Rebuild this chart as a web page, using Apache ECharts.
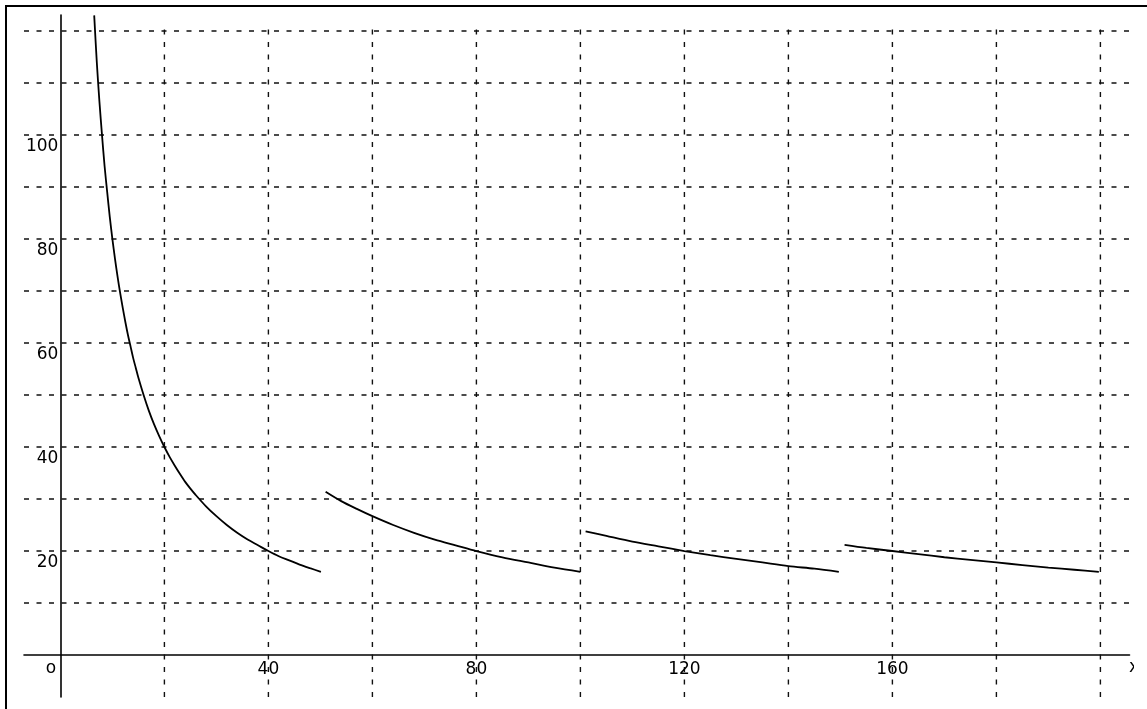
<!DOCTYPE html>
<html><head><meta charset="utf-8">
<script src="https://cdn.jsdelivr.net/npm/echarts@6/dist/echarts.min.js"></script>
<style>html,body{margin:0;padding:0;background:#fff}#c{width:1147px;height:709px}</style>
</head><body><div id="c"></div>
<script>
// Curve segments: [x, y]
const seg1 = [[6.5,123],[7,114],[7.5,106.5],[8,100],[8.5,94],[9,89],[9.5,84.2],[10,80],[10.5,76.2],[11,72.7],[11.5,69.6],[12,66.7],[12.5,64],[13,61.5],[13.5,59.3],[14,57.1],[14.5,55.2],[15,53.3],[16,50],[17,47],[18,44.4],[19,42.1],[20,40],[21,38.1],[22,36.4],[23,34.8],[24,33.3],[25,32],[26,30.8],[28,28.6],[30,26.7],[32,25],[34,23.5],[36,22.2],[38,21.1],[40,20],[42,19],[44,18.2],[46,17.4],[48,16.7],[50.1,16]];
const seg2 = [[51,31.4],[54,29.6],[57,28.1],[60,26.7],[64,25],[68,23.5],[72,22.2],[76,21.1],[80,20],[85,18.8],[90,17.8],[95,16.8],[100,16]];
const seg3 = [[101,23.8],[105,22.9],[110,21.8],[115,20.9],[120,20],[125,19.2],[130,18.5],[135,17.8],[140,17.1],[145,16.6],[149.7,16]];
const seg4 = [[150.8,21.2],[155,20.6],[160,20],[165,19.4],[170,18.8],[175,18.3],[180,17.8],[185,17.3],[190,16.8],[195,16.4],[199.7,16]];

// Grid lines and tick labels
const gridXs = [20,40,60,80,100,120,140,160,180,200];
const gridYs = [10,20,30,40,50,60,70,80,90,100,110,120];
const xLabels = [40,80,120,160];
const yLabels = [20,40,60,80,100];

const X_MIN = -7, X_MAX = 205.6, Y_MIN = -8.08, Y_MAX = 123.08;
const V_TOP = 121.6;      // top of vertical dashed lines
const H_RIGHT = 206;      // right end of horizontal dashed lines
const DASH = [5, 7.5];
const FONT = 'DejaVu Sans';

const chart = echarts.init(document.getElementById('c'), null, {renderer: 'canvas'});

function curve(data) {
  return {
    type: 'line', data: data, showSymbol: false, smooth: 0.3, z: 5,
    lineStyle: {color: '#000', width: 1.8}, silent: true
  };
}

const option = {
  animation: false,
  backgroundColor: '#fff',
  grid: {left: 24, top: 15, width: (X_MAX - X_MIN) * 5.2, height: (Y_MAX - Y_MIN) * 5.2, containLabel: false},
  xAxis: {
    type: 'value', min: X_MIN, max: X_MAX,
    axisLine: {show: true, onZero: true, lineStyle: {color: '#000', width: 1.6}},
    axisTick: {show: false}, axisLabel: {show: false}, splitLine: {show: false}
  },
  yAxis: {
    type: 'value', min: Y_MIN, max: Y_MAX,
    axisLine: {show: true, onZero: true, lineStyle: {color: '#000', width: 1.6}},
    axisTick: {show: false}, axisLabel: {show: false}, splitLine: {show: false}
  },
  series: [
    {
      type: 'custom', clip: false, silent: true, z: 1,
      data: gridXs.map(v => [v, 0]),
      renderItem: function (params, api) {
        const x = api.value(0);
        const a = api.coord([x, Y_MIN]);
        const b = api.coord([x, V_TOP]);
        return {type: 'line', shape: {x1: a[0], y1: a[1], x2: b[0], y2: b[1]},
          style: {stroke: '#111', lineWidth: 1.4, lineDash: DASH}};
      }
    },
    {
      type: 'custom', clip: false, silent: true, z: 1,
      data: gridYs.map(v => [0, v]),
      renderItem: function (params, api) {
        const y = api.value(1);
        const a = api.coord([X_MIN, y]);
        const b = api.coord([H_RIGHT, y]);
        return {type: 'line', shape: {x1: a[0], y1: a[1], x2: b[0], y2: b[1]},
          style: {stroke: '#111', lineWidth: 1.4, lineDash: DASH}};
      }
    },
    {
      type: 'custom', clip: false, silent: true, z: 6,
      data: yLabels.map(v => [0, v]),
      renderItem: function (params, api) {
        const p = api.coord([api.value(0), api.value(1)]);
        return {type: 'text', x: p[0] - 2, y: p[1] + 12,
          style: {text: String(api.value(1)), fontSize: 17, fontFamily: FONT, fill: '#000', align: 'right', verticalAlign: 'middle'}};
      }
    },
    {
      type: 'custom', clip: false, silent: true, z: 6,
      data: xLabels.map(v => [v, 0]),
      renderItem: function (params, api) {
        const p = api.coord([api.value(0), api.value(1)]);
        return {type: 'text', x: p[0], y: p[1] + 14.5,
          style: {text: String(api.value(0)), fontSize: 17, fontFamily: FONT, fill: '#000', align: 'center', verticalAlign: 'middle'}};
      }
    },
    {
      type: 'custom', clip: false, silent: true, z: 6,
      data: [[0, 0]],
      renderItem: function (params, api) {
        const p = api.coord([0, 0]);
        return {type: 'text', x: p[0] - 9.5, y: p[1] + 13.5,
          style: {text: 'o', fontSize: 17, fontFamily: FONT, fill: '#000', align: 'center', verticalAlign: 'middle'}};
      }
    },
    curve(seg1), curve(seg2), curve(seg3), curve(seg4)
  ],
  graphic: [
    {type: 'text', x: 1134, y: 668, z: 50,
      style: {text: 'x', fontSize: 17, fontFamily: FONT, fill: '#000', align: 'center', verticalAlign: 'middle'}},
    {type: 'rect', z: 60, shape: {x: 1134, y: 655, width: 20, height: 30}, style: {fill: '#fff'}},
    {type: 'rect', z: 70, shape: {x: 6, y: 6, width: 1400, height: 900}, style: {fill: 'none', stroke: '#000', lineWidth: 2}}
  ]
};
chart.setOption(option);
</script>
</body></html>
